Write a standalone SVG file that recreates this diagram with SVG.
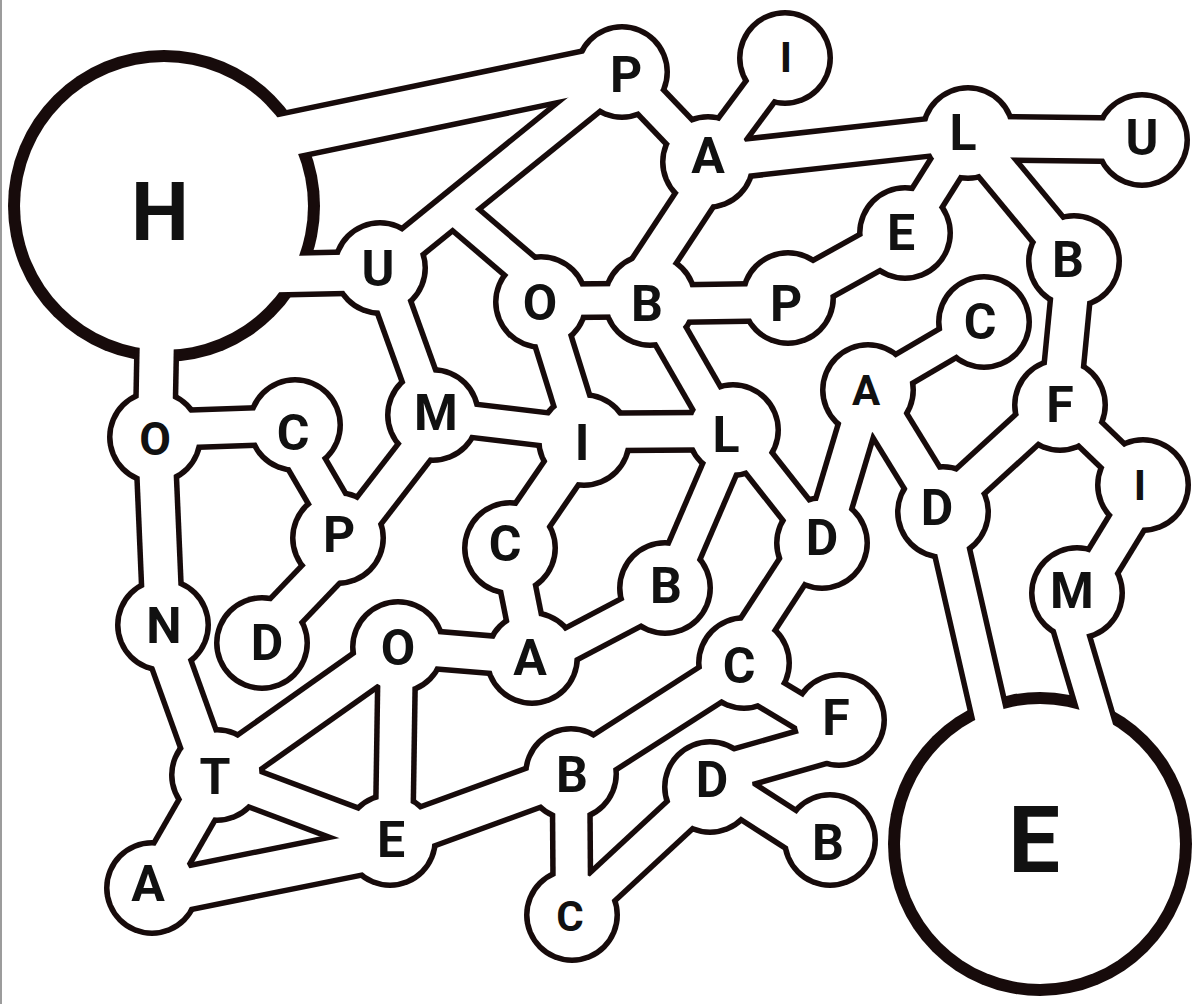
<svg xmlns="http://www.w3.org/2000/svg" xmlns:xlink="http://www.w3.org/1999/xlink" width="1198" height="1004" viewBox="0 0 1198 1004">
<style>
.o{stroke:#170b0b;fill:#170b0b}
.c{stroke:#fff;fill:none}
.o .w28{stroke-width:39}.c .w28{stroke-width:28}
.o .w30{stroke-width:41}.c .w30{stroke-width:30}
.o .w32{stroke-width:43}.c .w32{stroke-width:32}
.o .w34{stroke-width:45}.c .w34{stroke-width:34}
.o .w36{stroke-width:47}.c .w36{stroke-width:36}
.o .w38{stroke-width:49}.c .w38{stroke-width:38}
.o .w40{stroke-width:51}.c .w40{stroke-width:40}
.o circle{stroke:none}
.nw{fill:#fff}
text{font-family:Roboto,"Liberation Sans",Arial,sans-serif;font-weight:700;font-size:50px;fill:#111;text-anchor:middle}
.s{font-size:42px}
</style>
<defs>
<line id="c1" x1="200" y1="154" x2="622" y2="66"/>
<line id="c2" x1="622" y1="72" x2="380" y2="268"/>
<line id="c3" x1="200" y1="276" x2="380" y2="272"/>
<line id="c4" x1="622" y1="72" x2="708" y2="162"/>
<line id="c5" x1="708" y1="162" x2="785" y2="58"/>
<line id="c6" x1="708" y1="162" x2="968" y2="133"/>
<line id="c7" x1="968" y1="138" x2="1142" y2="140"/>
<line id="c8" x1="968" y1="133" x2="905" y2="233"/>
<line id="c9" x1="905" y1="233" x2="788" y2="298"/>
<line id="c10" x1="968" y1="133" x2="1074" y2="261"/>
<line id="c11" x1="1074" y1="261" x2="1060" y2="405"/>
<line id="c12" x1="1057" y1="402" x2="940" y2="509"/>
<line id="c13" x1="1060" y1="405" x2="1143" y2="485"/>
<line id="c14" x1="1148" y1="488" x2="1082" y2="596"/>
<line id="c15" x1="1060" y1="595" x2="1106" y2="750"/>
<line id="c16" x1="943" y1="512" x2="1001" y2="765"/>
<line id="c17" x1="868" y1="390" x2="984" y2="322"/>
<line id="c18" x1="868" y1="390" x2="943" y2="512"/>
<line id="c19" x1="868" y1="390" x2="822" y2="543"/>
<line id="c20" x1="733" y1="430" x2="822" y2="543"/>
<line id="c21" x1="814" y1="538" x2="736" y2="658"/>
<line id="c22" x1="736" y1="431" x2="668" y2="589"/>
<line id="c23" x1="584" y1="432" x2="733" y2="431"/>
<line id="c24" x1="433" y1="416" x2="584" y2="434"/>
<line id="c25" x1="541" y1="302" x2="584" y2="440"/>
<line id="c26" x1="584" y1="440" x2="510" y2="548"/>
<line id="c27" x1="510" y1="548" x2="532" y2="658"/>
<line id="c28" x1="535" y1="663" x2="668" y2="593"/>
<line id="c29" x1="398" y1="647" x2="532" y2="658"/>
<line id="c30" x1="439" y1="420" x2="344" y2="543"/>
<line id="c31" x1="380" y1="268" x2="433" y2="415"/>
<line id="c32" x1="453" y1="209" x2="550" y2="292"/>
<line id="c33" x1="541" y1="301" x2="650" y2="300"/>
<line id="c34" x1="635" y1="290" x2="716" y2="167"/>
<line id="c35" x1="650" y1="304" x2="788" y2="302"/>
<line id="c36" x1="650" y1="300" x2="733" y2="444"/>
<line id="c37" x1="158" y1="280" x2="155" y2="437"/>
<line id="c38" x1="155" y1="430" x2="295" y2="425"/>
<line id="c39" x1="155" y1="437" x2="163" y2="625"/>
<line id="c40" x1="287" y1="430" x2="347" y2="533"/>
<line id="c41" x1="347" y1="547" x2="258" y2="640"/>
<line id="c42" x1="158" y1="627" x2="212" y2="777"/>
<line id="c43" x1="217" y1="775" x2="398" y2="647"/>
<line id="c44" x1="397" y1="647" x2="394" y2="840"/>
<line id="c45" x1="217" y1="775" x2="390" y2="840"/>
<line id="c46" x1="152" y1="888" x2="217" y2="775"/>
<line id="c47" x1="153" y1="895" x2="391" y2="847"/>
<line id="c48" x1="390" y1="840" x2="571" y2="774"/>
<line id="c49" x1="571" y1="774" x2="744" y2="663"/>
<line id="c50" x1="571" y1="774" x2="572" y2="915"/>
<line id="c51" x1="572" y1="915" x2="710" y2="787"/>
<line id="c52" x1="737" y1="674" x2="832" y2="731"/>
<line id="c53" x1="707" y1="777" x2="844" y2="738"/>
<line id="c54" x1="714" y1="780" x2="823" y2="850"/>
</defs>
<rect x="0" y="0" width="1198" height="1004" fill="#fff"/>
<rect x="0" y="0" width="2" height="1004" fill="#9c9c9c"/>
<g id="outlines" class="o">
<circle cx="164" cy="206" r="156"/>
<circle cx="1040" cy="844" r="152"/>
<circle cx="622" cy="72" r="48"/><circle cx="785" cy="58" r="48"/><circle cx="708" cy="162" r="48"/>
<circle cx="968" cy="133" r="48"/><circle cx="1142" cy="140" r="48"/><circle cx="905" cy="233" r="48"/>
<circle cx="1074" cy="261" r="48"/><circle cx="984" cy="322" r="48"/><circle cx="788" cy="298" r="48"/>
<circle cx="650" cy="300" r="48"/><circle cx="541" cy="302" r="48"/><circle cx="380" cy="268" r="48"/>
<circle cx="433" cy="415" r="48"/><circle cx="584" cy="440" r="48"/><circle cx="733" cy="430" r="48"/>
<circle cx="510" cy="548" r="48"/><circle cx="665" cy="588" r="48"/><circle cx="532" cy="658" r="48"/>
<circle cx="822" cy="543" r="48"/><circle cx="868" cy="390" r="48"/><circle cx="943" cy="512" r="48"/>
<circle cx="1060" cy="405" r="48"/><circle cx="1143" cy="485" r="48"/><circle cx="1077" cy="593" r="48"/>
<circle cx="155" cy="437" r="48"/><circle cx="295" cy="425" r="48"/><circle cx="338" cy="538" r="48"/>
<circle cx="163" cy="625" r="48"/><circle cx="262" cy="643" r="48"/><circle cx="398" cy="647" r="48"/>
<circle cx="217" cy="775" r="48"/><circle cx="152" cy="888" r="48"/><circle cx="390" cy="840" r="48"/>
<circle cx="571" cy="774" r="48"/><circle cx="572" cy="915" r="48"/><circle cx="744" cy="663" r="48"/>
<circle cx="710" cy="787" r="48"/><circle cx="839" cy="720" r="48"/><circle cx="830" cy="840" r="48"/>
<use href="#c1" class="w40"/><use href="#c2" class="w28"/><use href="#c3" class="w36"/><use href="#c4" class="w30"/>
<use href="#c5" class="w30"/><use href="#c6" class="w32"/><use href="#c7" class="w38"/><use href="#c8" class="w30"/>
<use href="#c9" class="w36"/><use href="#c10" class="w34"/><use href="#c11" class="w34"/><use href="#c12" class="w32"/>
<use href="#c13" class="w28"/><use href="#c14" class="w32"/><use href="#c15" class="w28"/><use href="#c16" class="w30"/>
<use href="#c17" class="w28"/><use href="#c18" class="w36"/><use href="#c19" class="w32"/><use href="#c20" class="w28"/>
<use href="#c21" class="w30"/><use href="#c22" class="w30"/><use href="#c23" class="w32"/><use href="#c24" class="w28"/>
<use href="#c25" class="w32"/><use href="#c26" class="w36"/><use href="#c27" class="w30"/><use href="#c28" class="w28"/>
<use href="#c29" class="w32"/><use href="#c30" class="w30"/><use href="#c31" class="w30"/><use href="#c32" class="w28"/>
<use href="#c33" class="w28"/><use href="#c34" class="w34"/><use href="#c35" class="w32"/><use href="#c36" class="w30"/>
<use href="#c37" class="w34"/><use href="#c38" class="w32"/><use href="#c39" class="w34"/><use href="#c40" class="w32"/>
<use href="#c41" class="w34"/><use href="#c42" class="w34"/><use href="#c43" class="w36"/><use href="#c44" class="w32"/>
<use href="#c45" class="w32"/><use href="#c46" class="w36"/><use href="#c47" class="w38"/><use href="#c48" class="w36"/>
<use href="#c49" class="w36"/><use href="#c50" class="w32"/><use href="#c51" class="w32"/><use href="#c52" class="w28"/>
<use href="#c53" class="w34"/><use href="#c54" class="w32"/>
</g>
<g id="connectors" class="c">
<use href="#c1" class="w40"/><use href="#c2" class="w28"/><use href="#c3" class="w36"/><use href="#c4" class="w30"/>
<use href="#c5" class="w30"/><use href="#c6" class="w32"/><use href="#c7" class="w38"/><use href="#c8" class="w30"/>
<use href="#c9" class="w36"/><use href="#c10" class="w34"/><use href="#c11" class="w34"/><use href="#c12" class="w32"/>
<use href="#c13" class="w28"/><use href="#c14" class="w32"/><use href="#c15" class="w28"/><use href="#c16" class="w30"/>
<use href="#c17" class="w28"/><use href="#c18" class="w36"/><use href="#c19" class="w32"/><use href="#c20" class="w28"/>
<use href="#c21" class="w30"/><use href="#c22" class="w30"/><use href="#c23" class="w32"/><use href="#c24" class="w28"/>
<use href="#c25" class="w32"/><use href="#c26" class="w36"/><use href="#c27" class="w30"/><use href="#c28" class="w28"/>
<use href="#c29" class="w32"/><use href="#c30" class="w30"/><use href="#c31" class="w30"/><use href="#c32" class="w28"/>
<use href="#c33" class="w28"/><use href="#c34" class="w34"/><use href="#c35" class="w32"/><use href="#c36" class="w30"/>
<use href="#c37" class="w34"/><use href="#c38" class="w32"/><use href="#c39" class="w34"/><use href="#c40" class="w32"/>
<use href="#c41" class="w34"/><use href="#c42" class="w34"/><use href="#c43" class="w36"/><use href="#c44" class="w32"/>
<use href="#c45" class="w32"/><use href="#c46" class="w36"/><use href="#c47" class="w38"/><use href="#c48" class="w36"/>
<use href="#c49" class="w36"/><use href="#c50" class="w32"/><use href="#c51" class="w32"/><use href="#c52" class="w28"/>
<use href="#c53" class="w34"/><use href="#c54" class="w32"/>
</g>
<g id="node-H"><circle class="nw" cx="164" cy="206" r="144"/><text x="160" y="240" style="font-size:82px">H</text></g>
<g id="node-E-big"><circle class="nw" cx="1040" cy="844" r="140"/><text x="1034" y="872" style="font-size:92px">E</text></g>
<g id="node-P1"><circle class="nw" cx="622" cy="72" r="42.5"/><text x="626" y="92">P</text></g>
<g id="node-I1"><circle class="nw" cx="785" cy="58" r="42.5"/><text class="s" x="786" y="72">I</text></g>
<g id="node-A1"><circle class="nw" cx="708" cy="162" r="42.5"/><text x="708" y="173">A</text></g>
<g id="node-L1"><circle class="nw" cx="968" cy="133" r="42.5"/><text x="963" y="150">L</text></g>
<g id="node-U1"><circle class="nw" cx="1142" cy="140" r="42.5"/><text x="1142" y="155">U</text></g>
<g id="node-E1"><circle class="nw" cx="905" cy="233" r="42.5"/><text x="901" y="250">E</text></g>
<g id="node-B1"><circle class="nw" cx="1074" cy="261" r="42.5"/><text x="1068" y="277">B</text></g>
<g id="node-C1"><circle class="nw" cx="984" cy="322" r="42.5"/><text x="980" y="339">C</text></g>
<g id="node-P2"><circle class="nw" cx="788" cy="298" r="42.5"/><text x="786" y="321">P</text></g>
<g id="node-B2"><circle class="nw" cx="650" cy="300" r="42.5"/><text x="647" y="321">B</text></g>
<g id="node-O2"><circle class="nw" cx="541" cy="302" r="42.5"/><text x="540" y="320">O</text></g>
<g id="node-U2"><circle class="nw" cx="380" cy="268" r="42.5"/><text x="378" y="286">U</text></g>
<g id="node-M1"><circle class="nw" cx="433" cy="415" r="42.5"/><text x="436" y="430">M</text></g>
<g id="node-I2"><circle class="nw" cx="584" cy="440" r="42.5"/><text x="582" y="460">I</text></g>
<g id="node-L2"><circle class="nw" cx="733" cy="430" r="42.5"/><text x="726" y="452">L</text></g>
<g id="node-C2"><circle class="nw" cx="510" cy="548" r="42.5"/><text x="505" y="561">C</text></g>
<g id="node-B3"><circle class="nw" cx="665" cy="588" r="42.5"/><text x="666" y="603">B</text></g>
<g id="node-A2"><circle class="nw" cx="532" cy="658" r="42.5"/><text x="530" y="675">A</text></g>
<g id="node-D1"><circle class="nw" cx="822" cy="543" r="42.5"/><text x="822" y="555">D</text></g>
<g id="node-A3"><circle class="nw" cx="868" cy="390" r="42.5"/><text class="s" x="866" y="405">A</text></g>
<g id="node-D2"><circle class="nw" cx="943" cy="512" r="42.5"/><text x="937" y="525">D</text></g>
<g id="node-F1"><circle class="nw" cx="1060" cy="405" r="42.5"/><text x="1060" y="422">F</text></g>
<g id="node-I3"><circle class="nw" cx="1143" cy="485" r="42.5"/><text class="s" x="1140" y="500">I</text></g>
<g id="node-M2"><circle class="nw" cx="1077" cy="593" r="42.5"/><text x="1072" y="608">M</text></g>
<g id="node-O3"><circle class="nw" cx="155" cy="437" r="42.5"/><text x="155" y="455" style="font-size:46px">O</text></g>
<g id="node-C3"><circle class="nw" cx="295" cy="425" r="42.5"/><text x="293" y="450">C</text></g>
<g id="node-P3"><circle class="nw" cx="338" cy="538" r="42.5"/><text x="339" y="552">P</text></g>
<g id="node-N"><circle class="nw" cx="163" cy="625" r="42.5"/><text x="164" y="643">N</text></g>
<g id="node-D3"><circle class="nw" cx="262" cy="643" r="42.5"/><text x="267" y="660">D</text></g>
<g id="node-O4"><circle class="nw" cx="398" cy="647" r="42.5"/><text x="398" y="665">O</text></g>
<g id="node-T"><circle class="nw" cx="217" cy="775" r="42.5"/><text x="215" y="794">T</text></g>
<g id="node-A4"><circle class="nw" cx="152" cy="888" r="42.5"/><text x="148" y="901">A</text></g>
<g id="node-E2"><circle class="nw" cx="390" cy="840" r="42.5"/><text x="391" y="857">E</text></g>
<g id="node-B4"><circle class="nw" cx="571" cy="774" r="42.5"/><text x="572" y="792">B</text></g>
<g id="node-C4"><circle class="nw" cx="572" cy="915" r="42.5"/><text class="s" x="570" y="931">C</text></g>
<g id="node-C5"><circle class="nw" cx="744" cy="663" r="42.5"/><text x="739" y="683">C</text></g>
<g id="node-F2"><circle class="nw" cx="839" cy="720" r="42.5"/><text x="836" y="735">F</text></g>
<g id="node-D4"><circle class="nw" cx="710" cy="787" r="42.5"/><text x="712" y="797">D</text></g>
<g id="node-B5"><circle class="nw" cx="830" cy="840" r="42.5"/><text x="828" y="860">B</text></g>
</svg>
